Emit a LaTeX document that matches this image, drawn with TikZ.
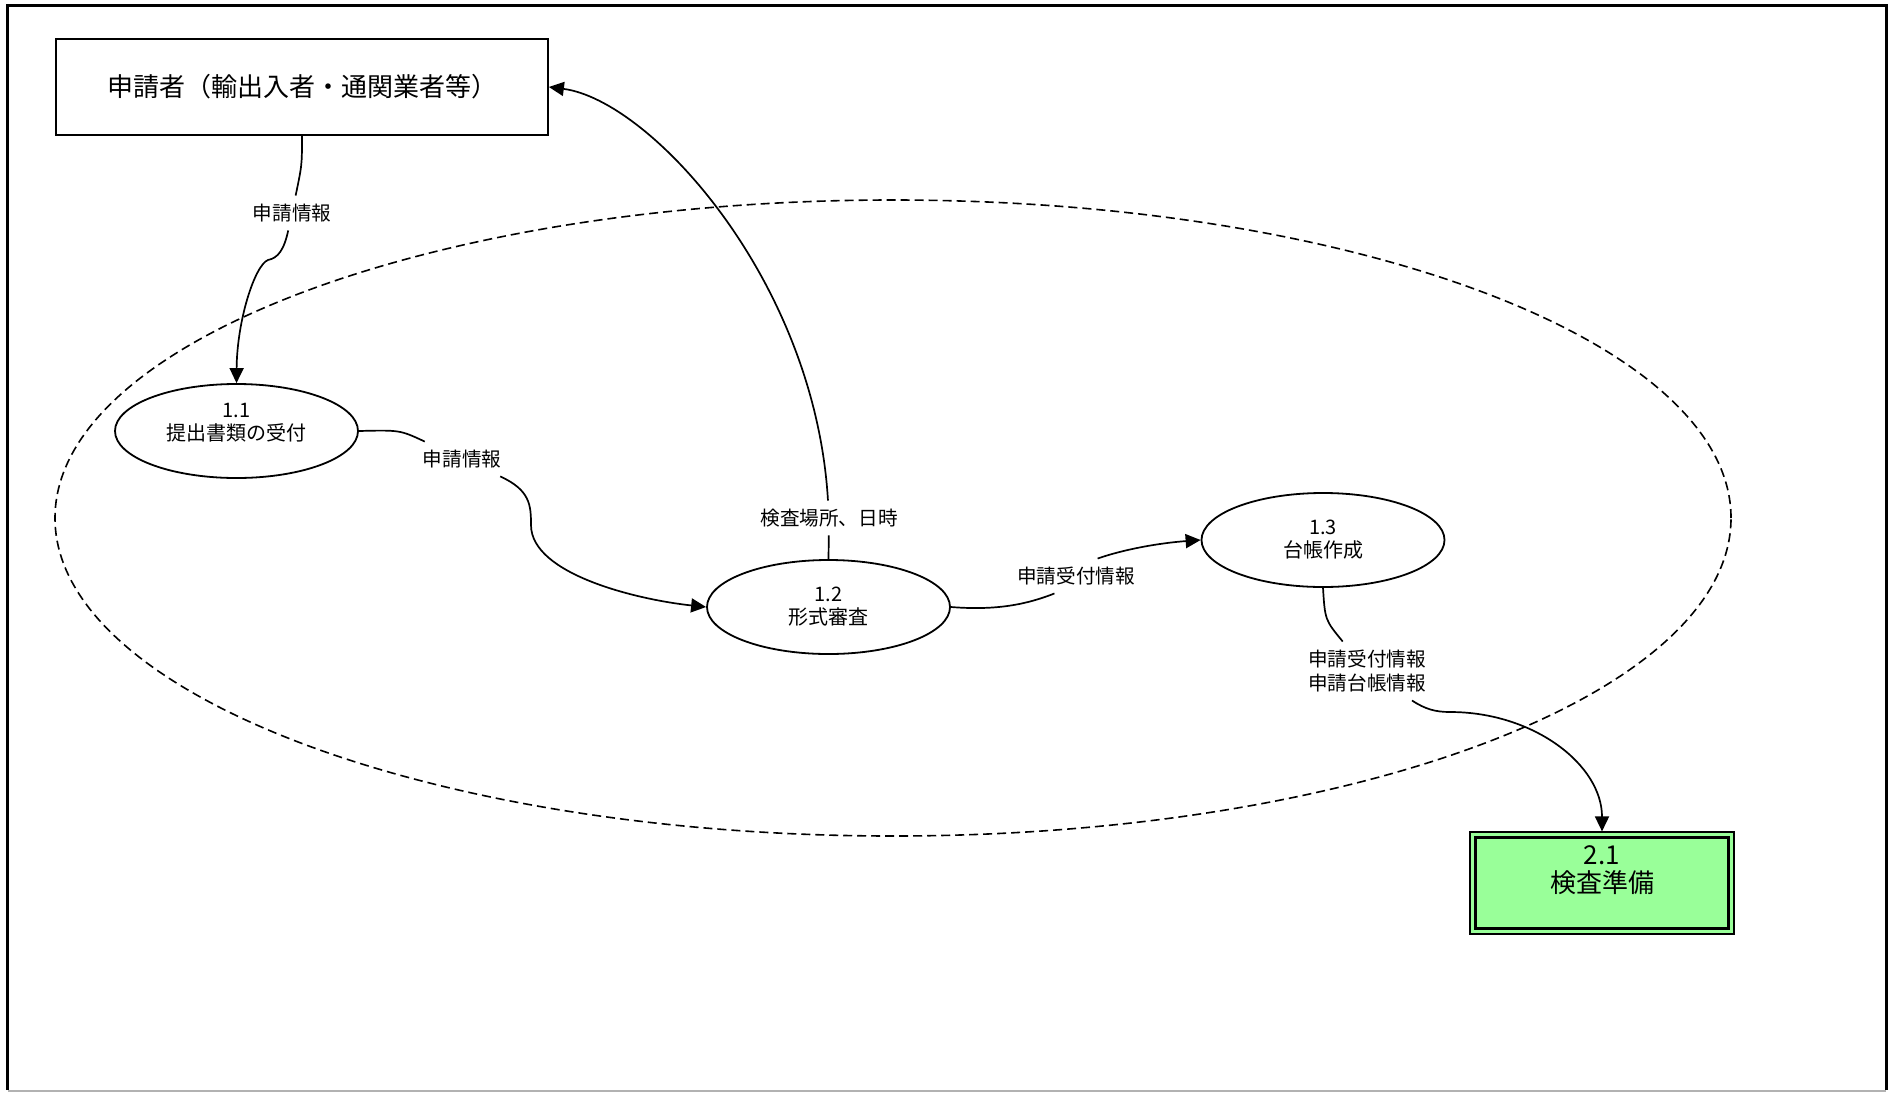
\documentclass[tikz,border=0pt]{standalone}
\usepackage{fontspec}
\setmainfont{Noto Sans CJK JP}
\usetikzlibrary{arrows.meta,shapes.geometric}
\definecolor{procgreen}{RGB}{153,255,153}
\begin{document}
\begin{tikzpicture}[x=0.5pt,y=-0.5pt,
  proc/.style={ellipse,draw,line width=0.9pt,minimum width=121.5pt,minimum height=47pt,inner sep=0pt,align=center,font=\fontsize{10}{11.5}\selectfont},
  flowlbl/.style={inner sep=4pt,align=center,font=\fontsize{9.8}{12}\selectfont},
  flow/.style={line width=0.85pt},
  arr/.style={flow,-{Triangle[length=7.5pt,width=7pt]}},
  extbox/.style={draw,line width=0.9pt,minimum width=246pt,minimum height=48pt,font=\fontsize{13}{15}\selectfont},
  bound/.style={ellipse,draw,dash pattern=on 4.5pt off 2.5pt,line width=0.8pt,minimum width=838pt,minimum height=318pt},
  nextbox/.style={draw,line width=0.6pt,fill=procgreen,minimum width=132pt,minimum height=51pt,inner sep=0pt}
]
\useasboundingbox (0,0) rectangle (1888,1092);
% frame
\draw[line width=1.5pt] (7.5,1090) -- (7.5,5) -- (1886,5) -- (1886,1090);
\draw[gray!60,line width=1pt] (7.5,1090.5) -- (1886,1090.5);
% process boundary
\node[bound] (bnd) at (893,518) {};
% nodes
\node[extbox] (app) at (302,87) {申請者（輸出入者・通関業者等）};
\node[proc,text depth=9pt] (e11) at (236.5,431) {1.1\\提出書類の受付};
\node[proc] (e12) at (828.5,607) {1.2\\形式審査};
\node[proc] (e13) at (1323,540) {1.3\\台帳作成};
\node[nextbox] (b21) at (1602,883) {};
\draw[line width=1.5pt] ([shift={(3pt,-3pt)}]b21.north west) rectangle ([shift={(-3pt,3pt)}]b21.south east);
\node[align=center,font=\fontsize{13}{14}\selectfont,inner sep=0pt] (b21t) at (1602,870) {2.1\\検査準備};
% labels
\node[flowlbl] (L1) at (292,213) {申請情報};
\node[flowlbl] (L2) at (462,459) {申請情報};
\node[flowlbl] (L3) at (829,518) {検査場所、日時};
\node[flowlbl] (L4) at (1076,576) {申請受付情報};
\node[flowlbl] (L5) at (1367,671) {申請受付情報\\申請台帳情報};
% connectors
\draw[flow] (app.south) .. controls (302,165) .. (L1);
\draw[arr] (L1) .. controls (284,250) and (278,258) .. (268,260) .. controls (255,265) and (237,320) .. (e11.north);
\draw[flow] (e11.east) .. controls (400,430) .. (L2);
\draw[arr] (L2) .. controls (530,490) and (531,505) .. (531,525) .. controls (531,575) and (640,600) .. (e12.west);
\draw[flow] (e12.north) -- (L3);
\draw[arr] (L3) .. controls (815,280) and (650,100) .. (app.east);
\draw[flow] (e12.east) .. controls (1000,611) and (1030,603) .. (L4.219);
\draw[arr] (L4.39) .. controls (1125,549) and (1160,543) .. (e13.west);
\draw[flow] (e13.south) .. controls (1325,620) .. (L5);
\draw[arr] (L5) .. controls (1425,709) and (1435,712) .. (1450,712) .. controls (1534,712) and (1602,765) .. (b21.north);
\end{tikzpicture}
\end{document}
